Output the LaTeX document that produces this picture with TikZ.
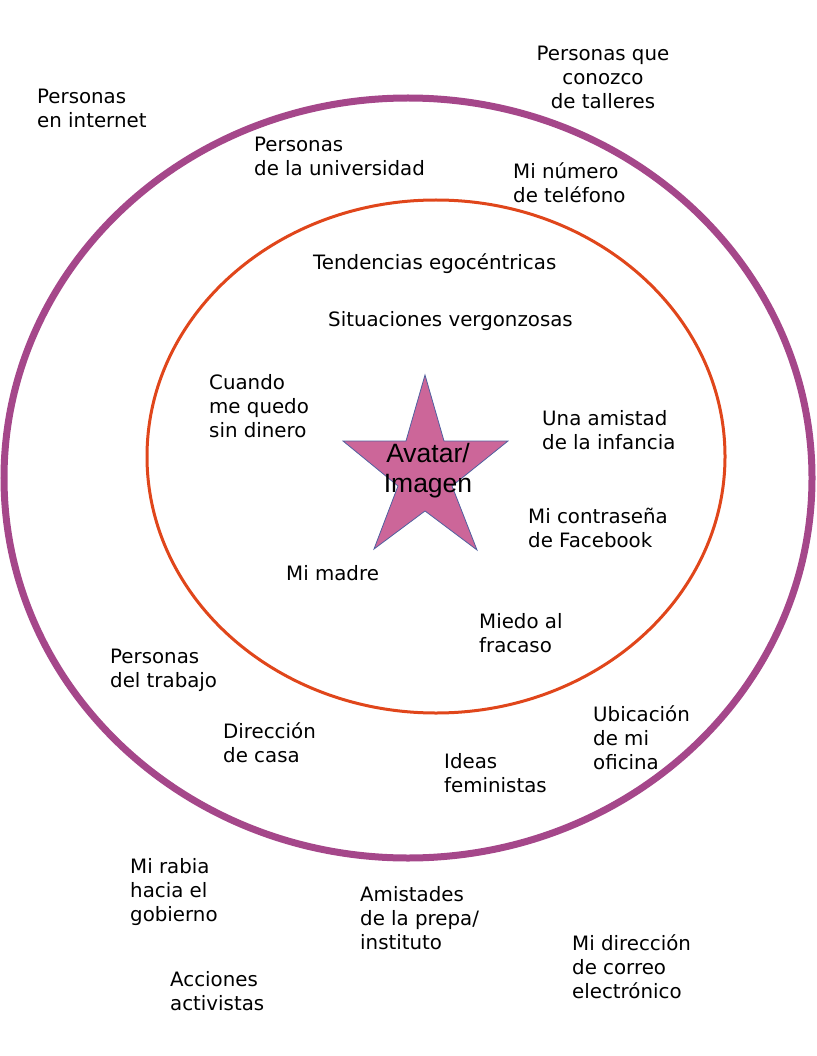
\documentclass[tikz,border=0pt]{standalone}
\usepackage{fontspec}
\newfontfamily\labelfont{DejaVu Sans}
\newfontfamily\avatarfont{Liberation Sans}
\definecolor{outerring}{HTML}{A5478A}
\definecolor{innerring}{HTML}{E0461B}
\definecolor{starfill}{HTML}{CC6699}
\definecolor{starline}{HTML}{5060A0}

\begin{document}
\begin{tikzpicture}[x=1pt, y=-1pt,
  lbl/.style={font=\labelfont\fontsize{19.8}{24}\selectfont, align=left, anchor=north west, inner sep=0pt},
  ring/.style={line width=#1}]
  \useasboundingbox (0,0) rectangle (816,1056);
  % rings
  \draw[ring=7pt, outerring] (408,478) ellipse [x radius=404pt, y radius=380pt];
  \draw[ring=3pt, innerring] (436,456.5) ellipse [x radius=289pt, y radius=256.5pt];
  % star
  \filldraw[fill=starfill, draw=starline, line width=0.8pt]
    (425,375) -- (444,441) -- (508,441) -- (452,486) -- (477,550) -- (425,511)
    -- (374,549) -- (398,486) -- (343,441) -- (406,441) -- cycle;
  \node[font=\avatarfont\fontsize{26.5}{30}\selectfont, align=center] (avatar) at (428,471) {Avatar/\\Imagen};
  % outside the big ring
  \node[lbl] (internet) at (37,89) {Personas\\en internet};
  \node[lbl, align=center, anchor=north] (talleres) at (603,46) {Personas que\\conozco\\de talleres};
  \node[lbl] (rabia) at (130,858) {Mi rabia\\hacia el\\gobierno};
  \node[lbl] (activistas) at (170,971) {Acciones\\activistas};
  \node[lbl] (prepa) at (360,886) {Amistades\\de la prepa/\\instituto};
  \node[lbl] (correo) at (572,934) {Mi dirección\\de correo\\electrónico};
  % between the rings
  \node[lbl] (universidad) at (254,137) {Personas\\de la universidad};
  \node[lbl] (telefono) at (513,162) {Mi número\\de teléfono};
  \node[lbl] (trabajo) at (110,649) {Personas\\del trabajo};
  \node[lbl] (casa) at (223,722) {Dirección\\de casa};
  \node[lbl] (oficina) at (593,705) {Ubicación\\de mi\\oficina};
  \node[lbl] (feministas) at (444,753) {Ideas\\feministas};
  % inside the small ring
  \node[lbl] (tendencias) at (313,253) {Tendencias egocéntricas};
  \node[lbl] (situaciones) at (328,311) {Situaciones vergonzosas};
  \node[lbl] (dinero) at (209,374) {Cuando\\me quedo\\sin dinero};
  \node[lbl] (infancia) at (542,410) {Una amistad\\de la infancia};
  \node[lbl] (contrasena) at (528,508) {Mi contraseña\\de Facebook};
  \node[lbl] (madre) at (286,565) {Mi madre};
  \node[lbl] (fracaso) at (479,613) {Miedo al\\fracaso};
\end{tikzpicture}
\end{document}
